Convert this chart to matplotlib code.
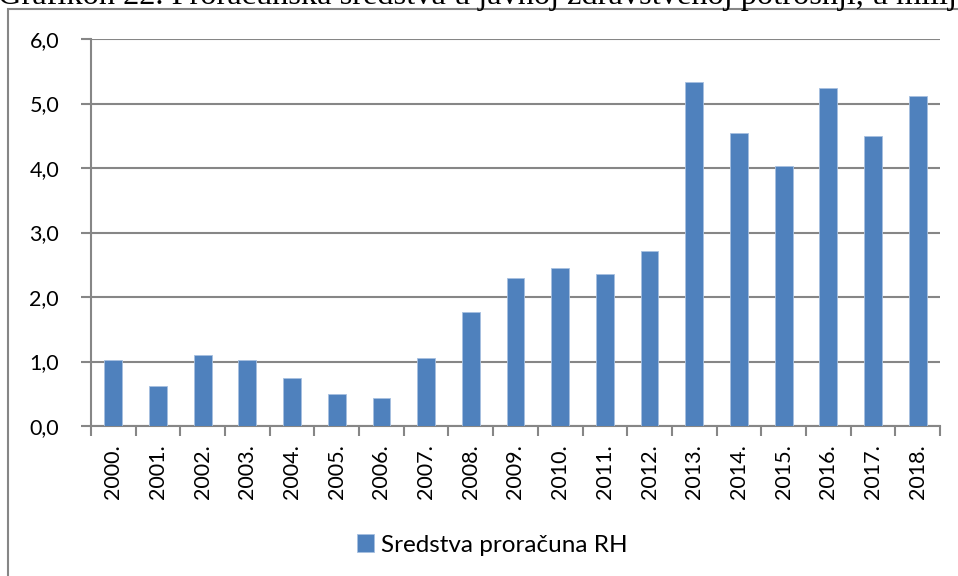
import matplotlib
matplotlib.use("Agg")
import matplotlib.pyplot as plt
from matplotlib.patches import Rectangle
from matplotlib.ticker import FuncFormatter, MultipleLocator
import numpy as np

#### Data
years = ["2000.", "2001.", "2002.", "2003.", "2004.", "2005.", "2006.",
         "2007.", "2008.", "2009.", "2010.", "2011.", "2012.", "2013.",
         "2014.", "2015.", "2016.", "2017.", "2018."]
values = [1.02, 0.62, 1.10, 1.03, 0.74, 0.49, 0.44,
          1.05, 1.76, 2.30, 2.45, 2.35, 2.72, 5.34,
          4.54, 4.03, 5.24, 4.50, 5.12]
series_name = "Sredstva proračuna RH"
title_text = "Grafikon 22. Proračunska sredstva u javnoj zdravstvenoj potrošnji, u milij"

#### Style
W, H = 958, 576
bar_col = "#4F81BD"
grid_col = "#868686"
plt.rcParams["font.family"] = ["Lato", "DejaVu Sans"]

fig = plt.figure(figsize=(W / 100, H / 100), dpi=100)

# caption of the page, cut off above the chart frame (as in the source)
fig.text(-2 / W, 1 - 4 / H, title_text, family="Liberation Serif", fontsize=23.3,
         va="baseline", ha="left", color="black")

# chart frame
fig.patches.append(Rectangle((8 / W, -0.1), 1.2, 1 - 9 / H + 0.1,
                             transform=fig.transFigure, fill=False,
                             edgecolor=grid_col, lw=1.5))

ax = fig.add_axes([91 / W, 1 - 426 / H, (940 - 91) / W, (426 - 39) / H])
x = np.arange(len(years))
ax.bar(x, values, width=0.4, color=bar_col, edgecolor="#A7C0E0",
       linewidth=0.6, label=series_name, zorder=3)

ax.set_xlim(-0.5, len(years) - 0.5)
ax.set_ylim(0, 6)
ax.yaxis.set_major_locator(MultipleLocator(1))
ax.yaxis.set_major_formatter(FuncFormatter(lambda v, p: ("%.1f" % v).replace(".", ",")))
ax.grid(axis="y", color=grid_col, lw=1.5, zorder=0)
ax.set_axisbelow(True)

ax.set_xticks(x)
ax.set_xticklabels(years, rotation=90, fontsize=15.5)
ax.set_xticks(np.arange(-0.5, len(years)), minor=True)
ax.tick_params(axis="x", which="major", length=0, pad=13)
ax.tick_params(axis="x", which="minor", length=7, width=1.5, color=grid_col)
ax.tick_params(axis="y", length=7, width=1.5, color=grid_col, labelsize=15.5, pad=16)

for s in ["top", "right"]:
    ax.spines[s].set_visible(False)
for s in ["left", "bottom"]:
    ax.spines[s].set_color(grid_col)
    ax.spines[s].set_linewidth(1.5)

fig.legend(loc="center", bbox_to_anchor=(492 / W, 1 - 545 / H), frameon=False,
           fontsize=17.5, handlelength=0.7, handleheight=0.7, handletextpad=0.3)

fig.savefig("out.png", dpi=100)
